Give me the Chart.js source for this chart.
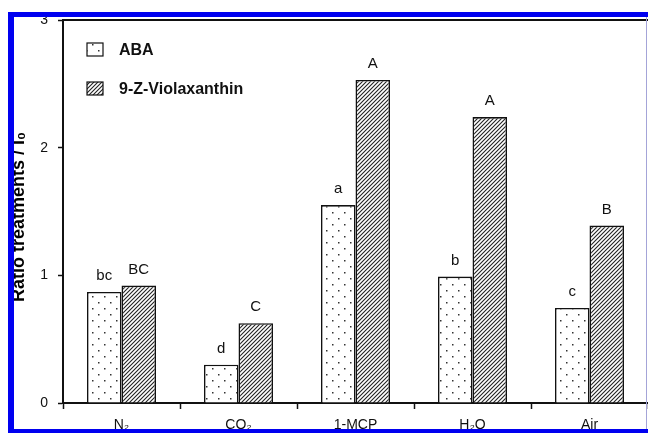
<!DOCTYPE html>
<html>
<head>
<meta charset="utf-8">
<script src="https://cdn.jsdelivr.net/npm/chart.js@4.4.1/dist/chart.umd.min.js"></script>
<style>
  html, body { margin: 0; padding: 0; background: #fff; }
  #wrap { width: 648px; height: 433px; position: relative; }
</style>
</head>
<body>
<div id="wrap"><canvas id="c" width="648" height="433"></canvas></div>
<script>
// ---- data ----
const categories = ['N₂', 'CO₂', '1-MCP', 'H₂O', 'Air'];
const seriesNames = ['ABA', '9-Z-Violaxanthin'];
const abaValues = [0.87, 0.30, 1.55, 0.99, 0.745];
const vioValues = [0.92, 0.625, 2.53, 2.24, 1.39];
const abaLetters = ['bc', 'd', 'a', 'b', 'c'];
const vioLetters = ['BC', 'C', 'A', 'A', 'B'];
const yTicks = [0, 1, 2, 3];
const yTitle = 'Ratio treatments / I₀';

const FONT = '"Liberation Sans", Arial, Helvetica, sans-serif';

function dotPattern() {
  const c = document.createElement('canvas');
  c.width = 12; c.height = 12;
  const g = c.getContext('2d');
  g.fillStyle = '#fff'; g.fillRect(0, 0, 12, 12);
  g.fillStyle = '#333';
  g.fillRect(2, 2, 1.5, 1.5);
  g.fillRect(8, 8, 1.5, 1.5);
  return g.createPattern(c, 'repeat');
}
function hatchPattern() {
  const c = document.createElement('canvas');
  c.width = 4; c.height = 4;
  const g = c.getContext('2d');
  g.fillStyle = '#fff'; g.fillRect(0, 0, 4, 4);
  g.strokeStyle = '#222'; g.lineWidth = 1.1;
  g.beginPath();
  g.moveTo(0, 4); g.lineTo(4, 0);
  g.moveTo(-1, 1); g.lineTo(1, -1);
  g.moveTo(3, 5); g.lineTo(5, 3);
  g.stroke();
  return g.createPattern(c, 'repeat');
}
const patterns = [dotPattern(), hatchPattern()];
const letterSets = [abaLetters, vioLetters];

const decorPlugin = {
  id: 'decor',
  afterDatasetsDraw(chart) {
    const ctx = chart.ctx;
    const ca = chart.chartArea;
    ctx.save();
    // bar letters
    ctx.font = '15px ' + FONT;
    ctx.fillStyle = '#111';
    ctx.textAlign = 'center';
    ctx.textBaseline = 'alphabetic';
    chart.data.datasets.forEach((ds, di) => {
      const meta = chart.getDatasetMeta(di);
      meta.data.forEach((el, i) => {
        ctx.fillText(letterSets[di][i], el.x, el.y - 12);
      });
    });
    // legend
    const boxX = 87, boxW = 16, boxH = 13;
    const rows = [43, 82];
    ctx.font = 'bold 16px ' + FONT;
    ctx.textAlign = 'left';
    ctx.textBaseline = 'middle';
    chart.data.datasets.forEach((ds, di) => {
      const y = rows[di];
      ctx.fillStyle = ds.backgroundColor;
      ctx.fillRect(boxX, y, boxW, boxH);
      ctx.strokeStyle = '#111'; ctx.lineWidth = 1.2;
      ctx.strokeRect(boxX, y, boxW, boxH);
      ctx.fillStyle = '#111';
      ctx.fillText(ds.label, 119, y + boxH / 2 + 1);
    });
    // top frame line
    ctx.strokeStyle = '#111'; ctx.lineWidth = 2;
    ctx.beginPath();
    ctx.moveTo(ca.left, ca.top); ctx.lineTo(chart.width, ca.top);
    ctx.stroke();
    // y axis title
    ctx.translate(24, 217);
    ctx.rotate(-Math.PI / 2);
    ctx.font = 'bold 18px ' + FONT;
    ctx.textAlign = 'center';
    ctx.textBaseline = 'alphabetic';
    ctx.fillStyle = '#000';
    ctx.fillText(yTitle, 0, 0);
    ctx.restore();
  },
  afterDraw(chart) {
    const ctx = chart.ctx;
    ctx.save();
    // thin right line
    ctx.fillStyle = '#a4a4d8';
    ctx.fillRect(646, 17, 1, 412);
    // blue page border
    ctx.fillStyle = '#0000f0';
    ctx.fillRect(8, 12, 640, 5);
    ctx.fillRect(8, 12, 6, 421);
    ctx.fillRect(8, 429, 640, 4);
    ctx.restore();
  }
};

new Chart(document.getElementById('c'), {
  type: 'bar',
  data: {
    labels: categories,
    datasets: [
      { label: seriesNames[0], data: abaValues, backgroundColor: patterns[0],
        borderColor: '#111', borderWidth: 1.6 },
      { label: seriesNames[1], data: vioValues, backgroundColor: patterns[1],
        borderColor: '#111', borderWidth: 1.6 }
    ]
  },
  options: {
    responsive: false,
    animation: false,
    events: [],
    layout: { padding: { left: 0, right: -3, top: 20, bottom: 0 } },
    datasets: { bar: { categoryPercentage: 0.59, barPercentage: 1.0 } },
    plugins: { legend: { display: false }, tooltip: { enabled: false } },
    scales: {
      x: {
        offset: true,
        grid: { display: true, drawOnChartArea: false, offset: true, tickLength: 6, tickColor: '#111', tickWidth: 1.5 },
        border: { display: true, color: '#111', width: 2 },
        ticks: { color: '#111', font: { family: FONT, size: 14 }, padding: 8, maxRotation: 0 },
        afterFit(s) { s.height = 30; }
      },
      y: {
        min: 0, max: 3,
        afterBuildTicks(s) { s.ticks = yTicks.map(v => ({ value: v })); },
        grid: { display: true, drawOnChartArea: false, tickLength: 5, tickColor: '#111', tickWidth: 1.5 },
        border: { display: true, color: '#111', width: 2 },
        ticks: { color: '#111', font: { family: FONT, size: 14 }, padding: 10 },
        afterFit(s) { s.width = 63; }
      }
    }
  },
  plugins: [decorPlugin]
});
</script>
</body>
</html>
